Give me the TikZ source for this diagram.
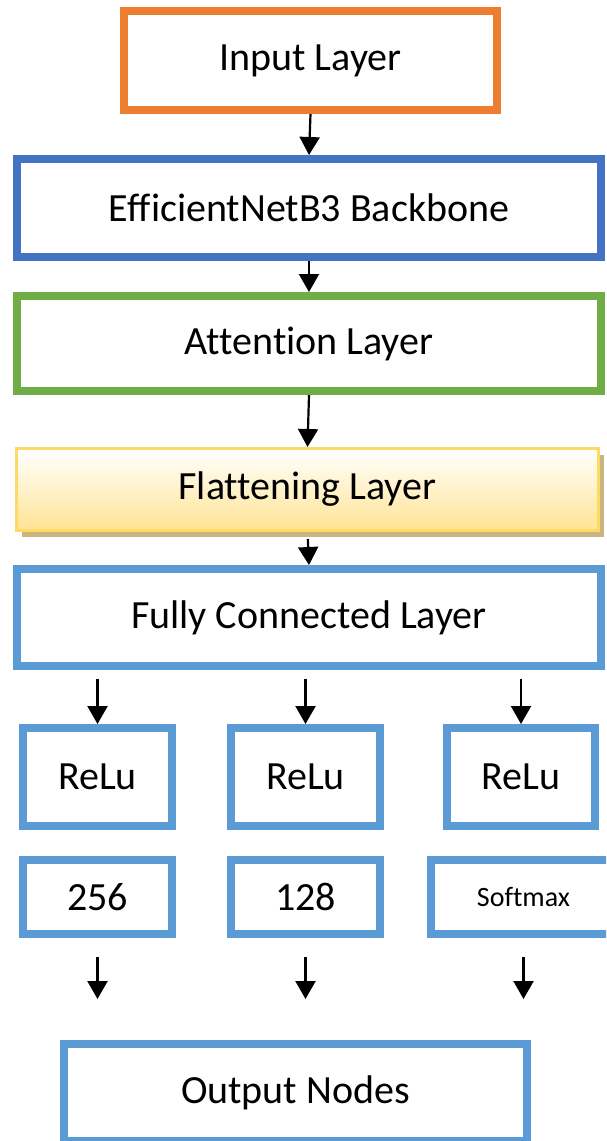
\documentclass[tikz,border=0pt]{standalone}
\usepackage{fontspec}
\setmainfont{Carlito}[Ligatures=NoCommon]
\usetikzlibrary{arrows.meta, positioning, shadows}
\definecolor{boxorange}{RGB}{237, 125, 49}
\definecolor{boxblue}{RGB}{68, 114, 196}
\definecolor{boxgreen}{RGB}{112, 173, 71}
\definecolor{boxlight}{RGB}{91, 155, 213}
\definecolor{flatgold}{RGB}{255, 217, 102}
\definecolor{flatfill}{RGB}{255, 228, 148}
\definecolor{flatshadow}{RGB}{200, 182, 126}

\tikzset{
  layer/.style={draw, line width=4pt, fill=white, minimum width=292pt,
    inner sep=0pt, font=\fontsize{20}{24}\selectfont},
  unit/.style={layer, draw=boxlight, minimum width=74.5pt},
  flatbox/.style={draw=flatgold, line width=1.5pt, top color=white, bottom color=flatfill,
    minimum width=291pt, minimum height=41pt, inner sep=0pt, font=\fontsize{20}{24}\selectfont,
    drop shadow={shadow xshift=2.5pt, shadow yshift=-3pt, fill=flatshadow, opacity=1}},
  arr/.style={-{Triangle[width=10pt,length=9pt]}, line width=1.1pt}
}

\begin{document}
\begin{tikzpicture}[x=0.5pt,y=-0.5pt]
  \useasboundingbox (0,0) rectangle (606,1141);
  \clip (0,0) rectangle (606,1141);

  % main column
  \node[layer, draw=boxorange, minimum width=186.5pt, minimum height=49.5pt] (input) at (310.5,60.5) {Input Layer};
  \node[layer, draw=boxblue, minimum height=49pt] (backbone) at (309,208) {EfficientNetB3 Backbone};
  \node[layer, draw=boxgreen, minimum height=47.5pt] (attention) at (309,343.5) {Attention Layer};
  \node[flatbox] (flatten) at (307.5,489.5) {Flattening Layer};
  \node[layer, draw=boxlight, minimum height=48.5pt] (dense) at (309,617.5) {Fully Connected Layer};

  % three branches
  \node[unit, minimum height=49pt] (relua) at (97.5,777) {ReLu};
  \node[unit, minimum height=49pt] (relub) at (305.5,777) {ReLu};
  \node[unit, minimum height=49pt, minimum width=74pt] (reluc) at (521,777) {ReLu};
  \node[unit, minimum height=37pt] (unitsa) at (97.5,897) {256};
  \node[unit, minimum height=37pt] (unitsb) at (305.5,897) {128};
  \node[unit, minimum height=37pt, minimum width=92.5pt, font=\fontsize{14}{17}\selectfont] (unitsc) at (523.5,897) {Softmax};

  \node[layer, draw=boxlight, minimum width=231.5pt, minimum height=48.5pt] (output) at (295.5,1092.5) {Output Nodes};

  % arrows
  \draw[arr] (input.south) -- (backbone.north);
  \draw[arr] (backbone.south) -- (attention.north);
  \draw[arr] (attention.south) -- (flatten.north);
  \draw[arr, shorten <=3.5pt] (flatten.south) -- (dense.north);
  \foreach \b in {a,b,c}{
    \draw[arr, shorten <=4.5pt] (relu\b.north |- dense.south) -- (relu\b.north);
    \draw[arr, shorten <=9.5pt, shorten >=20.5pt] (units\b.south) -- (units\b.south |- output.north);
  }
\end{tikzpicture}
\end{document}
